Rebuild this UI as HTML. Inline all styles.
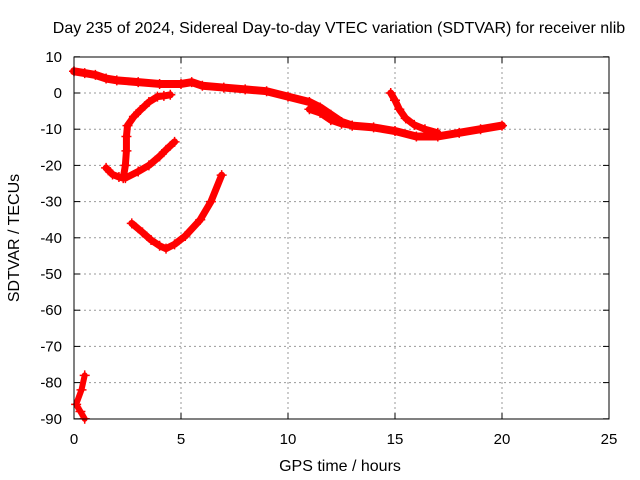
<!DOCTYPE html>
<html><head><meta charset="utf-8"><style>
body{margin:0;background:#fff}
svg{display:block;font-family:"Liberation Sans",sans-serif;font-size:15px}
</style></head><body>
<svg id="chart" width="640" height="480">
<rect width="640" height="480" fill="#fff"/>
<text x="339" y="33" text-anchor="middle" font-size="16">Day 235 of 2024, Sidereal Day-to-day VTEC variation (SDTVAR) for receiver nlib</text>
<text x="340" y="471" text-anchor="middle" font-size="16">GPS time / hours</text>
<text transform="translate(19,238) rotate(-90)" text-anchor="middle" font-size="16">SDTVAR / TECUs</text>
<g id="grid"></g><g id="series"></g><g id="axes"></g>
</svg>
<script>
const xTicks=[0,5,10,15,20,25];
const yTicks=[10,0,-10,-20,-30,-40,-50,-60,-70,-80,-90];
const s1t=[0,0.5,1,1.5,2,3,4,5,5.5,6,7,8,9,10,11,11.5,12,12.5,13,14,15,16,17,18,19,20];
const s1v=[6,5.5,5,4,3.5,3,2.5,2.5,3,2,1.5,1,0.5,-1,-2.5,-4,-6,-8,-9,-9.5,-10.5,-12,-12,-11,-10,-9];
const s2t=[11,11.5,12,12.5,13];
const s2v=[-4.5,-5.5,-7.5,-8.5,-9];
const s3t=[14.8,15,15.2,15.5,15.9,16.4,17];
const s3v=[0,-2,-4.5,-7,-8.8,-10,-11];
const s4t=[4.5,4.2,3.9,3.5,3.1,2.8,2.5,2.45,2.45,2.4,2.3,2.1,1.8,1.5];
const s4v=[-0.5,-0.8,-1,-2.5,-4.7,-6.5,-9,-12,-16,-20,-23.5,-23.2,-22.5,-20.7];
const s5t=[2.4,3,3.5,4,4.3,4.7];
const s5v=[-23.5,-21.7,-20,-17.5,-15.7,-13.5];
const s6t=[2.7,3.2,3.6,4,4.3,4.7,5.2,5.9,6.4,6.9];
const s6v=[-36,-38.5,-40.6,-42.2,-43,-41.8,-39.5,-35,-30,-22.7];
const s7t=[0.5,0.35,0.1,0.3,0.5];
const s7v=[-78,-82,-86,-88,-90];
const X=t=>74+t*21.4, Y=v=>93-v*3.62;
const NS="http://www.w3.org/2000/svg";
const grid=document.getElementById('grid'),axes=document.getElementById('axes'),ser=document.getElementById('series');
function mk(tag,at,p){const e=document.createElementNS(NS,tag);for(const k in at)e.setAttribute(k,at[k]);p.appendChild(e);return e;}
xTicks.forEach(t=>{
 if(t>0&&t<25){const g=mk('line',{x1:X(t),x2:X(t),y1:57,y2:419,stroke:'#999','stroke-dasharray':'2,3'},grid);
 
 }
 const l=mk('text',{x:X(t),y:444,'text-anchor':'middle'},axes);l.textContent=t;
 
 
 mk('line',{x1:X(t),x2:X(t),y1:57,y2:63,stroke:'#000'},axes);
 mk('line',{x1:X(t),x2:X(t),y1:419,y2:413,stroke:'#000'},axes);
});
yTicks.forEach(v=>{
 if(v<10&&v>-90){const g=mk('line',{x1:74,x2:609,y1:Y(v),y2:Y(v),stroke:'#999','stroke-dasharray':'2,3'},grid);
 
 }
 const l=mk('text',{x:62,y:Y(v)+5,'text-anchor':'end'},axes);l.textContent=v;
 
 
 mk('line',{x1:74,x2:80,y1:Y(v),y2:Y(v),stroke:'#000'},axes);
 mk('line',{x1:609,x2:603,y1:Y(v),y2:Y(v),stroke:'#000'},axes);
});
const fr=mk('rect',{x:74,y:57,width:535,height:362,fill:'none',stroke:'#000'},axes);


const widths=[8,7,7,7,7,7,6];
[[s1t,s1v],[s2t,s2v],[s3t,s3v],[s4t,s4v],[s5t,s5v],[s6t,s6v],[s7t,s7v]].forEach(([ts,vs],i)=>{
 const pts=ts.map((t,j)=>X(t)+','+Y(vs[j])).join(' ');
 const p=mk('polyline',{points:pts,fill:'none',stroke:'#f00','stroke-width':widths[i],'stroke-linejoin':'round','stroke-linecap':'round'},ser);
 
 
 ts.forEach((t,j)=>{const x=X(t),y=Y(vs[j]);
  const m=mk('path',{d:`M${x-5},${y}h10M${x},${y-5}v10`,stroke:'#f00','stroke-width':1.5},ser);
  
  });
});
</script>
</body></html>
